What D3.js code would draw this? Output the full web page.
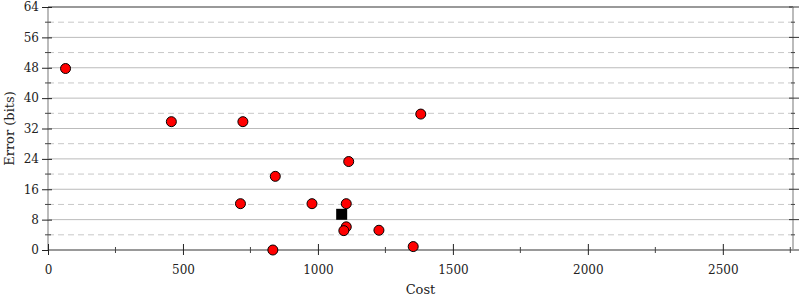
<!doctype html>
<html lang="en">
<head>
  <meta charset="utf-8">
  <title>Cost vs Error</title>
  <script src="https://cdnjs.cloudflare.com/ajax/libs/d3/7.8.5/d3.min.js"></script>
  <style>
    body { margin: 0; background: #fff; }
    text { font-family: "DejaVu Serif", serif; font-size: 13px; fill: #222; }
  </style>
</head>
<body>
  <svg width="800" height="300" id="svg"></svg>
</body>
<script>
  // data
  var costs  = [65, 457, 722, 1381, 842, 1114, 713, 978, 1105, 1105, 1096, 1226, 833, 1353];
  var errors = [47.8, 33.8, 33.8, 35.8, 19.4, 23.3, 12.2, 12.2, 12.2, 6.1, 5.1, 5.2, 0, 0.9];
  var bestCost = [1088];
  var bestError = [9.4];
  var xTicks = [0, 500, 1000, 1500, 2000, 2500];
  var xMinor = [250, 750, 1250, 1750, 2250, 2750];
  var yTicks = [0, 8, 16, 24, 32, 40, 48, 56, 64];
  var yMinor = [4, 12, 20, 28, 36, 44, 52, 60];

  var pLeft = 48, pRight = 793, pTop = 7, pBottom = 250;

  var x = d3.scaleLinear().domain([0, 2760]).range([pLeft, pRight]);
  var y = d3.scaleLinear().domain([0, 64]).range([pBottom, pTop]);

  var svg = d3.select('#svg');

  // gridlines
  svg.selectAll('.minorgrid')
    .data(yMinor)
    .enter()
    .append('line')
    .attr('class', 'minorgrid')
    .attr('x1', pLeft).attr('x2', pRight)
    .attr('y1', function(d) { return y(d); })
    .attr('y2', function(d) { return y(d); })
    .attr('stroke', '#c8c8c8')
    .attr('stroke-dasharray', '6,4');

  svg.selectAll('.majorgrid')
    .data(yTicks.filter(function(d) { return d > 0 && d < 64; }))
    .enter()
    .append('line')
    .attr('class', 'majorgrid')
    .attr('x1', pLeft).attr('x2', pRight)
    .attr('y1', function(d) { return y(d); })
    .attr('y2', function(d) { return y(d); })
    .attr('stroke', '#bbb');

  // frame
  svg.append('line')
    .attr('x1', pLeft).attr('x2', pRight)
    .attr('y1', y(64)).attr('y2', y(64))
    .attr('stroke', '#999').attr('stroke-width', 2);
  svg.append('line')
    .attr('x1', pLeft).attr('x2', pLeft)
    .attr('y1', pTop).attr('y2', pBottom)
    .attr('stroke', '#bbb').attr('stroke-width', 2);
  svg.append('line')
    .attr('x1', pRight).attr('x2', pRight)
    .attr('y1', pTop).attr('y2', pBottom)
    .attr('stroke', '#bbb').attr('stroke-width', 2);

  // left axis
  var yAxis = svg.append('g')
    .attr('transform', 'translate(' + pLeft + ',0)')
    .call(d3.axisLeft(y).tickValues(yTicks).tickFormat(d3.format('d')).tickSize(6).tickPadding(3));
  yAxis.select('.domain').remove();
  yAxis.selectAll('.tick line').attr('x2', 4).attr('x1', -6).attr('stroke', '#222');
  yAxis.selectAll('text').style('font-family', '"DejaVu Serif", serif').style('font-size', '12px').attr('fill', '#222');

  svg.selectAll('.yminortick')
    .data(yMinor)
    .enter()
    .append('line')
    .attr('class', 'yminortick')
    .attr('x1', pLeft - 3).attr('x2', pLeft + 3)
    .attr('y1', function(d) { return y(d); })
    .attr('y2', function(d) { return y(d); })
    .attr('stroke', '#444');

  // right ticks
  svg.selectAll('.rtick')
    .data(yTicks)
    .enter()
    .append('line')
    .attr('class', 'rtick')
    .attr('x1', pRight - 4).attr('x2', pRight + 6)
    .attr('y1', function(d) { return y(d); })
    .attr('y2', function(d) { return y(d); })
    .attr('stroke', '#333');
  svg.selectAll('.rminortick')
    .data(yMinor)
    .enter()
    .append('line')
    .attr('class', 'rminortick')
    .attr('x1', pRight - 2).attr('x2', pRight + 2)
    .attr('y1', function(d) { return y(d); })
    .attr('y2', function(d) { return y(d); })
    .attr('stroke', '#444');

  // bottom axis
  svg.append('line')
    .attr('x1', pLeft).attr('x2', pRight + 6)
    .attr('y1', pBottom).attr('y2', pBottom)
    .attr('stroke', '#999').attr('stroke-width', 2);

  var xAxis = svg.append('g')
    .attr('transform', 'translate(0,' + pBottom + ')')
    .call(d3.axisBottom(x).tickValues(xTicks).tickFormat(d3.format('d')).tickSize(5).tickPadding(10));
  xAxis.select('.domain').remove();
  xAxis.selectAll('.tick line').attr('y1', -6).attr('y2', 5).attr('stroke', '#222');
  xAxis.selectAll('text').style('font-family', '"DejaVu Serif", serif').style('font-size', '12px').attr('fill', '#222');

  svg.selectAll('.xminortick')
    .data(xMinor)
    .enter()
    .append('line')
    .attr('class', 'xminortick')
    .attr('x1', function(d) { return x(d); })
    .attr('x2', function(d) { return x(d); })
    .attr('y1', pBottom - 3).attr('y2', pBottom + 3)
    .attr('stroke', '#444');

  // axis titles
  svg.append('text')
    .attr('x', (pLeft + pRight) / 2)
    .attr('y', 294)
    .attr('text-anchor', 'middle')
    .text('Cost');
  svg.append('text')
    .attr('transform', 'translate(14,' + ((pTop + pBottom) / 2) + ') rotate(-90)')
    .attr('text-anchor', 'middle')
    .text('Error (bits)');

  // points
  svg.selectAll('.pt')
    .data(costs)
    .enter()
    .append('circle')
    .attr('class', 'pt')
    .attr('cx', function(d) { return x(d); })
    .attr('cy', function(d, i) { return y(errors[i]); })
    .attr('r', 5)
    .attr('fill', '#ff0000')
    .attr('stroke', '#000')
    .attr('stroke-width', 1);

  svg.selectAll('.best')
    .data(bestCost)
    .enter()
    .append('rect')
    .attr('class', 'best')
    .attr('x', function(d) { return x(d) - 5.5; })
    .attr('y', function(d, i) { return y(bestError[i]) - 5.5; })
    .attr('width', 11)
    .attr('height', 11)
    .attr('fill', '#000');
</script>
</html>
